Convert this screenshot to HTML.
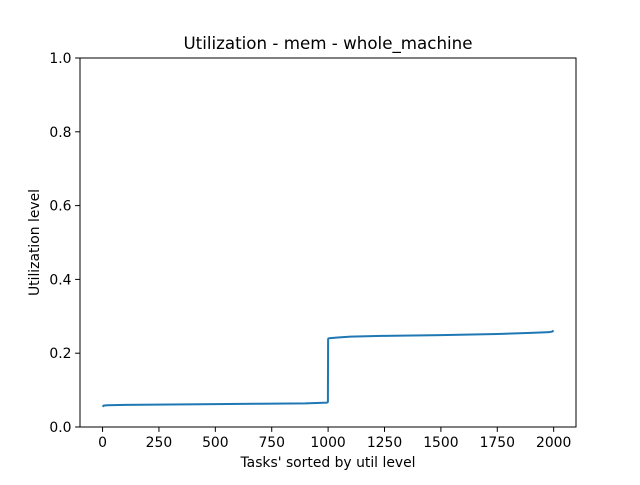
<!DOCTYPE html>
<html><head><meta charset="utf-8"><style>
body{margin:0;background:#fff;font-family:"Liberation Sans","DejaVu Sans",sans-serif}
svg text{font-family:"DejaVu Sans","Liberation Sans",sans-serif;fill:#000}
</style></head><body>
<svg id="chart" width="640" height="480" viewBox="0 0 640 480" xmlns="http://www.w3.org/2000/svg">
<rect x="0" y="0" width="640" height="480" fill="#fff"/>
<text x="328" y="49" font-size="16.7" text-anchor="middle">Utilization - mem - whole_machine</text>
<g id="xticks"></g>
<g id="yticks"></g>
<path id="line" fill="none" stroke="#1f77b4" stroke-width="2"/>
<rect x="80" y="58" width="496" height="369" fill="none" stroke="#000" stroke-width="1"/>
<text x="328" y="467" font-size="13.9" text-anchor="middle">Tasks' sorted by util level</text>
<text transform="translate(39,242.5) rotate(-90)" font-size="13.9" text-anchor="middle">Utilization level</text>
</svg>
<script>
const taskIdx = [0, 5, 20, 100, 300, 500, 700, 900, 995, 999, 1000, 1002, 1010, 1050, 1100, 1250, 1500, 1750, 1900, 1980, 1995, 1999];
const utilVals = [0.055, 0.058, 0.059, 0.060, 0.061, 0.062, 0.063, 0.064, 0.066, 0.068, 0.238, 0.240, 0.241, 0.243, 0.245, 0.247, 0.249, 0.252, 0.255, 0.257, 0.259, 0.262];
const xTickVals = [0, 250, 500, 750, 1000, 1250, 1500, 1750, 2000];
const yTickVals = [0.0, 0.2, 0.4, 0.6, 0.8, 1.0];
const L=80,R=576,T=58,B=427,xmin=-100,xmax=2099,ymin=0,ymax=1;
function xs(v){return L+(v-xmin)/(xmax-xmin)*(R-L);}
function ys(v){return B-(v-ymin)/(ymax-ymin)*(B-T);}
const NS="http://www.w3.org/2000/svg";
const line=document.getElementById('line');
line.setAttribute('d',taskIdx.map((t,i)=>(i?'L':'M')+xs(t).toFixed(2)+','+ys(utilVals[i]).toFixed(2)).join(''));
const gx=document.getElementById('xticks');
xTickVals.forEach(v=>{
 const l=document.createElementNS(NS,'line');
 
 
 l.setAttribute('x1',xs(v));l.setAttribute('x2',xs(v));l.setAttribute('y1',B);l.setAttribute('y2',B+4.9);l.setAttribute('stroke','#000');l.setAttribute('stroke-width','1');gx.appendChild(l);
 const t=document.createElementNS(NS,'text');
 
 
 t.setAttribute('x',xs(v));t.setAttribute('y',B+20);t.setAttribute('font-size','13.9');t.setAttribute('text-anchor','middle');t.textContent=v;gx.appendChild(t);
});
const gy=document.getElementById('yticks');
yTickVals.forEach(v=>{
 const l=document.createElementNS(NS,'line');
 
 
 l.setAttribute('x1',L-4.9);l.setAttribute('x2',L);l.setAttribute('y1',ys(v));l.setAttribute('y2',ys(v));l.setAttribute('stroke','#000');l.setAttribute('stroke-width','1');gy.appendChild(l);
 const t=document.createElementNS(NS,'text');
 
 
 t.setAttribute('x',L-8.5);t.setAttribute('y',ys(v)+5);t.setAttribute('font-size','13.9');t.setAttribute('text-anchor','end');t.textContent=v.toFixed(1);gy.appendChild(t);
});
</script>
</body></html>
